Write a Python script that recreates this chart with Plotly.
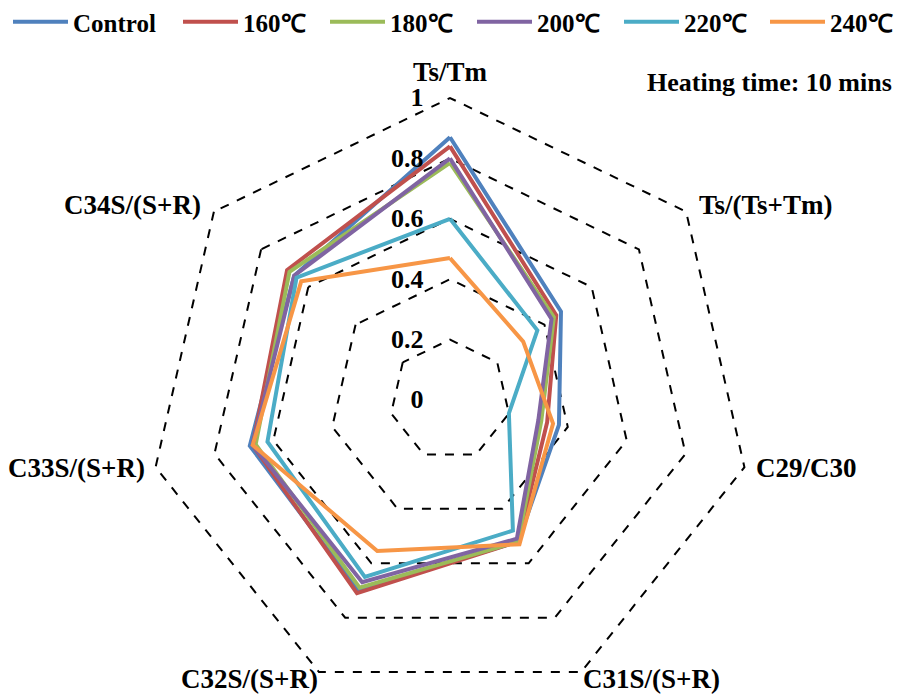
import math
import plotly.graph_objects as go

categories = ["Ts/Tm", "Ts/(Ts+Tm)", "C29/C30", "C31S/(S+R)", "C32S/(S+R)", "C33S/(S+R)", "C34S/(S+R)"]
series_names = ["Control", "160℃", "180℃", "200℃", "220℃", "240℃"]
control = [0.87, 0.47, 0.37, 0.52, 0.70, 0.68, 0.66]
t160 = [0.84, 0.45, 0.33, 0.52, 0.71, 0.67, 0.69]
t180 = [0.785, 0.44, 0.31, 0.52, 0.69, 0.66, 0.68]
t200 = [0.80, 0.43, 0.30, 0.51, 0.67, 0.67, 0.66]
t220 = [0.60, 0.37, 0.20, 0.48, 0.65, 0.62, 0.65]
t240 = [0.47, 0.31, 0.35, 0.53, 0.555, 0.67, 0.63]
tick_vals = [0, 0.2, 0.4, 0.6, 0.8, 1]
tick_text = ["0", "0.2", "0.4", "0.6", "0.8", "1"]

series = [control, t160, t180, t200, t220, t240]
colors = ["#4F81BD", "#C0504D", "#9BBB59", "#8064A2", "#4BACC6", "#F79646"]

RMAX = 1.02
cx, cy, R1 = 450, 400, 302
R = R1 * RMAX
W = 901
H = int(math.ceil(cy + R)) + 1
FONT = "Liberation Serif, Times New Roman, serif"

# legend entry left positions in pixels (layout only)
legend_x = [8, 178, 325, 472, 619, 765]

fig = go.Figure()
legend_layouts = {}
for i, (name, vals, col) in enumerate(zip(series_names, series, colors)):
    key = "legend" if i == 0 else f"legend{i + 1}"
    fig.add_trace(go.Scatterpolar(
        r=vals + vals[:1], theta=categories + categories[:1],
        mode="lines", name=name, legend=key,
        line=dict(color=col, width=4),
    ))
    legend_layouts[key] = dict(
        orientation="h", x=legend_x[i] / W, xanchor="left", y=1 - 22 / H, yanchor="middle",
        font=dict(family=FONT, size=25, color="black", weight="bold"),
        bgcolor="rgba(0,0,0,0)", itemwidth=55,
    )

# category label placement (pixel centres, layout only)
label_pos = [(450, 72), (765, 205), (806, 468), (651, 679), (249, 679), (76, 468), (132, 205)]
annotations = []
for cat, (px, py) in zip(categories, label_pos):
    annotations.append(dict(
        text=cat, x=px / W, y=1 - py / H, xref="paper", yref="paper",
        showarrow=False, xanchor="center", yanchor="middle",
        font=dict(family=FONT, size=27, color="black", weight="bold"),
    ))
annotations.append(dict(
    text="Heating time: 10 mins", x=769 / W, y=1 - 83 / H, xref="paper", yref="paper",
    showarrow=False, xanchor="center", yanchor="middle",
    font=dict(family=FONT, size=26, color="black", weight="bold"),
))

y0 = max(0.0, (H - cy - R) / H)
y1 = min(1.0, (H - cy + R) / H)
fig.update_layout(
    width=W, height=H,
    margin=dict(l=0, r=0, t=0, b=0, autoexpand=False),
    paper_bgcolor="white", plot_bgcolor="white",
    font=dict(family=FONT, size=18, color="black", weight="bold"),
    polar=dict(
        domain=dict(x=[(cx - R) / W, (cx + R) / W], y=[y0, y1]),
        gridshape="linear",
        bgcolor="white",
        radialaxis=dict(
            range=[0, RMAX], angle=90, side="counterclockwise",
            tickvals=tick_vals, ticktext=tick_text,
            showline=False, showgrid=True, gridcolor="black", griddash="dash", gridwidth=2,
            ticks="outside", ticklen=17, tickcolor="rgba(0,0,0,0)", tickangle=90,
            tickfont=dict(family=FONT, size=26, color="black", weight="bold"),
        ),
        angularaxis=dict(
            direction="clockwise", rotation=90,
            showgrid=False, showline=False, ticks="", showticklabels=False,
        ),
    ),
    showlegend=True,
    annotations=annotations,
    **legend_layouts,
)

fig.write_html("out.html")
